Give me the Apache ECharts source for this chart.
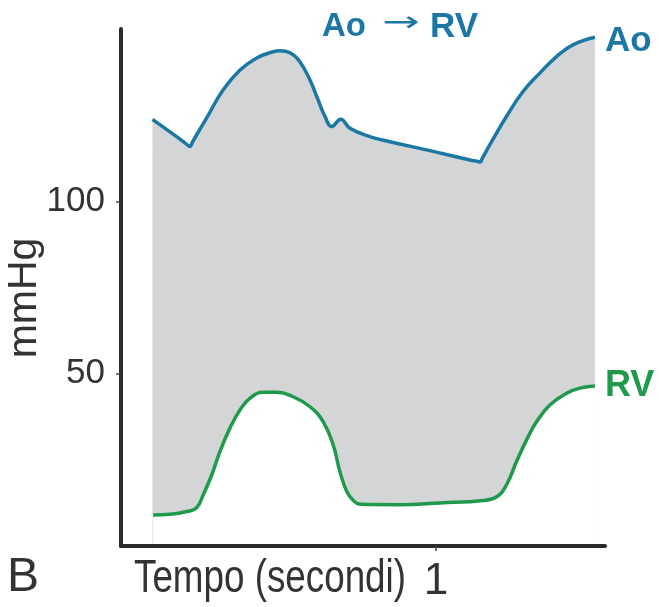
<!DOCTYPE html>
<html>
<head>
<meta charset="utf-8">
<script src="https://cdn.jsdelivr.net/npm/echarts@6.0.0/dist/echarts.min.js"></script>
<style>
html,body{margin:0;padding:0;background:#fff;}
#c{width:659px;height:607px;}
</style>
</head>
<body>
<div id="c"></div>
<script>
// Aortic pressure (Ao) - time in seconds, pressure in mmHg
const aoTime = [0.100, 0.200, 0.211, 0.219, 0.227, 0.244, 0.272, 0.324, 0.378, 0.431, 0.483, 0.505, 0.537, 0.568, 0.600, 0.626, 0.648, 0.669, 0.698, 0.727, 0.790, 0.854, 0.981, 1.108, 1.132, 1.140, 1.148, 1.171, 1.224, 1.276, 1.330, 1.383, 1.435, 1.505];
const aoPressure = [123.8, 117.2, 116.4, 115.9, 117.2, 119.9, 124.2, 132.3, 138.1, 141.6, 143.4, 143.7, 143.1, 140.5, 135.2, 129.4, 124.6, 121.7, 123.8, 121.2, 118.8, 117.3, 114.7, 112.0, 111.6, 111.4, 112.6, 116.4, 124.6, 131.8, 137.2, 142.0, 145.4, 147.6];
// Right ventricle pressure (RV)
const rvTime = [0.102, 0.156, 0.209, 0.240, 0.261, 0.288, 0.314, 0.346, 0.378, 0.410, 0.452, 0.494, 0.547, 0.600, 0.642, 0.674, 0.695, 0.717, 0.737, 0.759, 0.886, 1.013, 1.150, 1.193, 1.224, 1.256, 1.288, 1.320, 1.362, 1.415, 1.457, 1.505];
const rvPressure = [9.0, 9.2, 10.0, 11.1, 14.8, 20.6, 27.4, 34.2, 39.5, 42.9, 44.6, 44.6, 43.3, 40.4, 36.1, 29.3, 21.6, 15.8, 13.3, 12.1, 12.0, 12.5, 13.2, 14.3, 17.7, 24.5, 30.8, 36.1, 40.9, 44.3, 45.8, 46.4];
// tick labels
const yTicks = [50, 100];
const xTicks = [1];

const BLUE = '#1b77a4';
const GREEN = '#1f9a4c';
const FONT = '"Liberation Sans", Arial, Helvetica, sans-serif';

const aoData = aoTime.map((t, i) => [t, aoPressure[i]]);
const rvData = rvTime.map((t, i) => [t, rvPressure[i]]);

const chart = echarts.init(document.getElementById('c'), null, {renderer: 'canvas'});
chart.setOption({
  animation: false,
  backgroundColor: '#fff',
  grid: {left: 121, right: 54, top: 29, bottom: 61, containLabel: false},
  xAxis: {
    type: 'value', min: 0, max: 1.537, z: 10,
    axisLine: {show: true, lineStyle: {color: '#2a2a2a', width: 4}},
    axisTick: {show: true, customValues: xTicks, length: 5, lineStyle: {color: '#444', width: 1.5}},
    axisLabel: {show: true, customValues: xTicks, margin: 14, color: '#333', fontSize: 44, fontFamily: FONT},
    splitLine: {show: false}
  },
  yAxis: {
    type: 'value', min: 0, max: 150, z: 10,
    axisLine: {show: true, lineStyle: {color: '#2a2a2a', width: 4}},
    axisTick: {show: true, customValues: yTicks, length: 5, lineStyle: {color: '#444', width: 1.5}},
    axisLabel: {show: true, customValues: yTicks, margin: 16, color: '#333', fontSize: 35, fontFamily: FONT},
    splitLine: {show: false}
  },
  series: [
    {
      name: 'Ao', type: 'line', data: aoData, smooth: 0.45, symbol: 'none',
      lineStyle: {color: BLUE, width: 3.5},
      areaStyle: {color: '#d4d5d7', opacity: 1, origin: 'start'},
      z: 3
    },
    {
      name: 'RV', type: 'line', data: rvData, smooth: 0.45, symbol: 'none',
      lineStyle: {color: GREEN, width: 3.5},
      areaStyle: {color: '#ffffff', opacity: 1, origin: 'start'},
      z: 4
    }
  ],
  graphic: [
    {type: 'text', x: 322, y: 27, style: {text: 'Ao', fill: BLUE, font: 'bold 33px ' + FONT, textAlign: 'left', textVerticalAlign: 'middle'}},
    {type: 'text', x: 401, y: 24, scaleX: 1.6, style: {text: '→', fill: BLUE, font: '28px "DejaVu Sans"', textAlign: 'center', textVerticalAlign: 'middle'}},
    {type: 'text', x: 478, y: 27, style: {text: 'RV', fill: BLUE, font: 'bold 35px ' + FONT, textAlign: 'right', textVerticalAlign: 'middle'}},
    {type: 'text', x: 605, y: 41, style: {text: 'Ao', fill: BLUE, font: 'bold 35px ' + FONT, textAlign: 'left', textVerticalAlign: 'middle'}},
    {type: 'text', x: 605, y: 386, style: {text: 'RV', fill: GREEN, font: 'bold 36px ' + FONT, textAlign: 'left', textVerticalAlign: 'middle'}},
    {type: 'text', x: 25, y: 298, rotation: Math.PI / 2, style: {text: 'mmHg', fill: '#333', font: '41px ' + FONT, textAlign: 'center', textVerticalAlign: 'middle'}},
    {type: 'text', x: 270, y: 579, scaleX: 0.80, style: {text: 'Tempo (secondi)', fill: '#333', font: '46px ' + FONT, textAlign: 'center', textVerticalAlign: 'middle'}},
    {type: 'text', x: 23, y: 578, style: {text: 'B', fill: '#333', font: '48px ' + FONT, textAlign: 'center', textVerticalAlign: 'middle'}}
  ]
});
</script>
</body>
</html>
